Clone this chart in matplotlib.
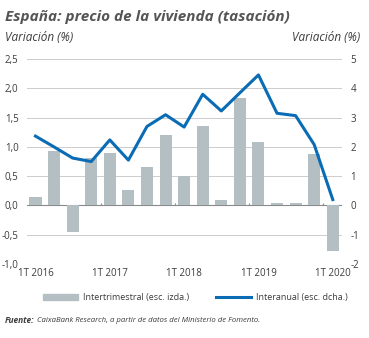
import numpy as np
import matplotlib
matplotlib.use("Agg")
from matplotlib import pyplot as plt
from matplotlib.patches import Patch
from matplotlib.lines import Line2D

plt.rcParams['font.family'] = ['Open Sans', 'DejaVu Sans']

quarters = ["1T 2016", "2T 2016", "3T 2016", "4T 2016",
            "1T 2017", "2T 2017", "3T 2017", "4T 2017",
            "1T 2018", "2T 2018", "3T 2018", "4T 2018",
            "1T 2019", "2T 2019", "3T 2019", "4T 2019",
            "1T 2020"]
intertrimestral = [0.14, 0.93, -0.46, 0.81, 0.90, 0.27, 0.65, 1.21, 0.50,
                   1.36, 0.09, 1.84, 1.08, 0.05, 0.04, 0.88, -0.77]
interanual = [2.37, 2.0, 1.62, 1.5, 2.24, 1.55, 2.7, 3.1, 2.68,
              3.8, 3.23, 3.85, 4.46, 3.15, 3.07, 2.08, 0.2]
left_ticks = [-1.0, -0.5, 0.0, 0.5, 1.0, 1.5, 2.0, 2.5]
right_ticks = [-2, -1, 0, 1, 2, 3, 4, 5]

BAR_C = "#b3bfc3"
LINE_C = "#0a6cb5"
TXT_C = "#3c3c3c"

fig = plt.figure(figsize=(3.69, 3.38), dpi=100)
ax = fig.add_axes([0.073, 0.219, 0.854, 0.606])
ax2 = ax.twinx()

x = np.arange(len(quarters))
ax.bar(x, intertrimestral, width=0.65, color=BAR_C, zorder=2)
ax2.plot(x, interanual, color=LINE_C, lw=2.2, zorder=3)

ax.set_xlim(-0.46, 16.5)
ax.set_ylim(-1.0, 2.5)
ax2.set_ylim(-2, 5)

for t in left_ticks:
    if t != 0:
        ax.axhline(t, color="#cccccc", lw=0.7, zorder=0)
ax.axhline(0, color="#8a8a8a", lw=0.8, zorder=1)
ax.vlines([3.5, 7.5, 11.5, 15.5], 0, 0.04, color="#8a8a8a", lw=0.8)

ax.set_yticks(left_ticks)
ax.set_yticklabels([f"{t:.1f}".replace(".", ",") for t in left_ticks])
ax2.set_yticks(right_ticks)
ax2.set_yticklabels([str(t) for t in right_ticks])

yr = [i for i, q in enumerate(quarters) if q.startswith("1T")]
ax.set_xticks(yr)
ax.set_xticklabels([quarters[i] for i in yr])

for a in (ax, ax2):
    for s in a.spines.values():
        s.set_visible(False)
    a.tick_params(length=0, labelsize=7, colors=TXT_C)
ax.tick_params(axis="y", pad=6)
ax2.tick_params(axis="y", pad=6)
ax.tick_params(axis="x", pad=3)
ax.set_zorder(ax2.get_zorder() - 1)
ax2.patch.set_visible(False)

fig.text(0.014, 0.95, "España: precio de la vivienda (tasación)", fontsize=11,
         fontweight="bold", fontstyle="italic", color="#555555", va="center")
fig.text(0.014, 0.89, "Variación (%)", fontsize=8.5, fontstyle="italic",
         color=TXT_C, va="center")
fig.text(0.975, 0.89, "Variación (%)", fontsize=8.5, fontstyle="italic",
         color=TXT_C, va="center", ha="right")

handles = [Patch(color=BAR_C), Line2D([], [], color=LINE_C, lw=2.2)]
fig.legend(handles, ["Intertrimestral (esc. izda.)", "Interanual (esc. dcha.)"],
           loc="center", bbox_to_anchor=(0.53, 0.12), ncol=2, frameon=False,
           fontsize=6.5, handlelength=3.8, handleheight=0.6, columnspacing=3,
           handletextpad=0.6, labelcolor=TXT_C)

src = fig.text(0.014, 0.052, "Fuente:", fontsize=6, fontstyle="italic",
               fontweight="bold", color=TXT_C, va="center")
fig.canvas.draw()
bb = src.get_window_extent().transformed(fig.transFigure.inverted())
fig.text(bb.x1 + 0.006, 0.052,
         "CaixaBank Research, a partir de datos del Ministerio de Fomento.",
         fontsize=5.6, fontstyle="italic", color=TXT_C, va="center")

fig.savefig("out.png", dpi=100, facecolor="white")
